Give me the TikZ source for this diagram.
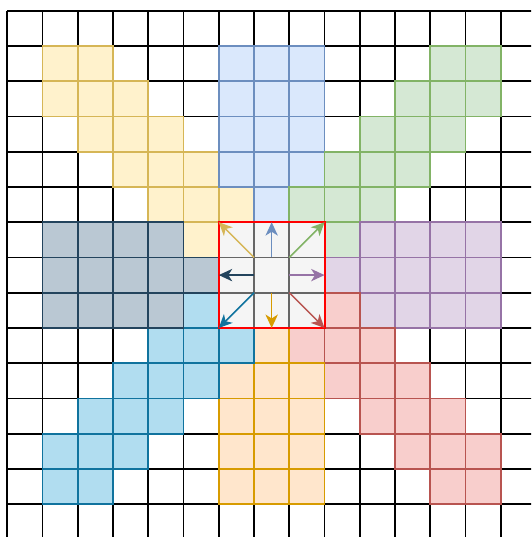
\documentclass[tikz,border=0pt]{standalone}
\usepackage{tikz}
\usetikzlibrary{arrows.meta}

\definecolor{yelF}{HTML}{FFF2CC}\definecolor{yelS}{HTML}{D6B656}
\definecolor{bluF}{HTML}{DAE8FC}\definecolor{bluS}{HTML}{6C8EBF}
\definecolor{grnF}{HTML}{D5E8D4}\definecolor{grnS}{HTML}{82B366}
\definecolor{purF}{HTML}{E1D5E7}\definecolor{purS}{HTML}{9673A6}
\definecolor{redF}{HTML}{F8CECC}\definecolor{redS}{HTML}{B85450}
\definecolor{orgF}{HTML}{FFE6CC}\definecolor{orgS}{HTML}{D79B00}
\definecolor{cyaF}{HTML}{B1DDF0}\definecolor{cyaS}{HTML}{10739E}
\definecolor{slaF}{HTML}{BAC8D3}\definecolor{slaS}{HTML}{23445D}
\definecolor{ctrF}{HTML}{F5F5F5}\definecolor{ctrS}{HTML}{666666}

\begin{document}
\begin{tikzpicture}[x=1cm, y=1cm, >={Stealth[length=3.8mm, width=3.5mm, inset=1.1mm]},
	cellY/.style={fill=yelF, draw=yelS, line width=1.4pt},
	cellB/.style={fill=bluF, draw=bluS, line width=1.4pt},
	cellG/.style={fill=grnF, draw=grnS, line width=1.4pt},
	cellP/.style={fill=purF, draw=purS, line width=1.4pt},
	cellR/.style={fill=redF, draw=redS, line width=1.4pt},
	cellO/.style={fill=orgF, draw=orgS, line width=1.4pt},
	cellC/.style={fill=cyaF, draw=cyaS, line width=1.4pt},
	cellS/.style={fill=slaF, draw=slaS, line width=1.4pt},
	cellM/.style={fill=ctrF, draw=ctrS, line width=1.4pt},
	dir/.style={->, line width=1.2pt}]
	\useasboundingbox (-0.207,0.304) rectangle (14.857,-14.93);
	\clip (-0.207,0.304) rectangle (14.857,-14.93);
	% plain grid
	\draw[line width=1.5pt] (0,-15) grid (15,0);
	% the eight neighbourhoods
	\foreach \c/\r in {1/1,2/1,1/2,2/2,3/2,2/3,3/3,4/3,3/4,4/4,5/4,4/5,5/5,6/5,5/6}
		\draw[cellY] (\c,-\r) rectangle ++(1,-1);
	\foreach \c/\r in {6/1,7/1,8/1,6/2,7/2,8/2,6/3,7/3,8/3,6/4,7/4,8/4,7/5}
		\draw[cellB] (\c,-\r) rectangle ++(1,-1);
	\foreach \c/\r in {12/1,13/1,11/2,12/2,13/2,10/3,11/3,12/3,9/4,10/4,11/4,8/5,9/5,10/5,9/6}
		\draw[cellG] (\c,-\r) rectangle ++(1,-1);
	\foreach \c/\r in {10/6,11/6,12/6,13/6,9/7,10/7,11/7,12/7,13/7,10/8,11/8,12/8,13/8}
		\draw[cellP] (\c,-\r) rectangle ++(1,-1);
	\foreach \c/\r in {9/8,8/9,9/9,10/9,9/10,10/10,11/10,10/11,11/11,12/11,11/12,12/12,13/12,12/13,13/13}
		\draw[cellR] (\c,-\r) rectangle ++(1,-1);
	\foreach \c/\r in {7/9,6/10,7/10,8/10,6/11,7/11,8/11,6/12,7/12,8/12,6/13,7/13,8/13}
		\draw[cellO] (\c,-\r) rectangle ++(1,-1);
	\foreach \c/\r in {5/8,4/9,5/9,6/9,3/10,4/10,5/10,2/11,3/11,4/11,1/12,2/12,3/12,1/13,2/13}
		\draw[cellC] (\c,-\r) rectangle ++(1,-1);
	\foreach \c/\r in {1/6,2/6,3/6,4/6,1/7,2/7,3/7,4/7,5/7,1/8,2/8,3/8,4/8}
		\draw[cellS] (\c,-\r) rectangle ++(1,-1);
	% centre block
	\foreach \c in {6,7,8}
		\foreach \r in {6,7,8}
			\draw[cellM] (\c,-\r) rectangle ++(1,-1);
	\node[draw=red, line width=1.6pt, minimum size=3cm, inner sep=0pt, outer sep=0pt] (blk) at (7.5,-7.5) {};
	\node[minimum size=1cm, inner sep=0pt, outer sep=0pt] (ctr) at (7.5,-7.5) {};
	\draw[dir, yelS] (ctr.north west) -- (blk.north west);
	\draw[dir, bluS] (ctr.north) -- (blk.north);
	\draw[dir, grnS] (ctr.north east) -- (blk.north east);
	\draw[dir, purS] (ctr.east) -- (blk.east);
	\draw[dir, redS] (ctr.south east) -- (blk.south east);
	\draw[dir, orgS] (ctr.south) -- (blk.south);
	\draw[dir, cyaS] (ctr.south west) -- (blk.south west);
	\draw[dir, slaS] (ctr.west) -- (blk.west);
\end{tikzpicture}
\end{document}
